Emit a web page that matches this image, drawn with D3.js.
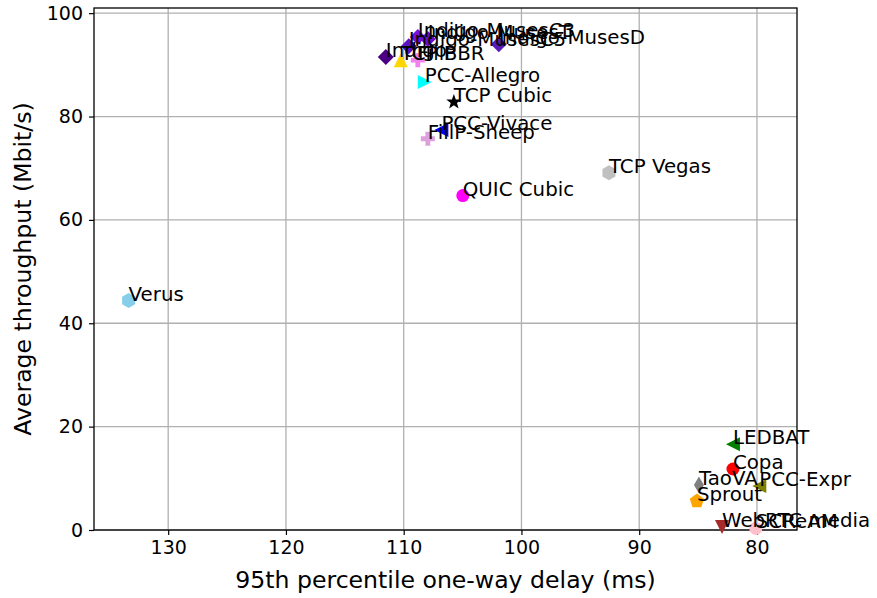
<!DOCTYPE html>
<html>
<head>
<meta charset="utf-8">
<script src="https://cdn.jsdelivr.net/npm/d3@7"></script>
<style>
  html, body { margin: 0; padding: 0; background: #fff; }
  svg { display: block; font-family: "DejaVu Sans", sans-serif; }
</style>
</head>
<body>
<svg id="chart" width="877" height="598"></svg>
<script>
// ---- data ----
const schemes = ["Indigo-MusesC3", "Indigo-MusesT", "Indigo-MusesC5", "Indigo-MusesD", "Indigo", "TCP BBR", "FillP",
  "PCC-Allegro", "TCP Cubic", "PCC-Vivace", "FillP-Sheep", "QUIC Cubic", "TCP Vegas", "Verus",
  "LEDBAT", "Copa", "TaoVA", "PCC-Expr", "Sprout", "WebRTC media", "SCReAM"];
const delays = [108.8, 107.95, 109.57, 101.92, 111.52, 110.25, 108.8,
  108.21, 105.74, 106.8, 107.95, 104.98, 92.57, 133.36,
  82.04, 82.04, 84.93, 79.8, 85.1, 82.97, 80.1];
const throughputs = [95.4, 95.0, 93.6, 94.0, 91.5, 90.9, 90.9,
  86.7, 82.8, 77.4, 75.7, 64.7, 69.1, 44.4,
  16.6, 11.8, 8.7, 8.5, 5.6, 0.6, 0.3];
const xTicks = [130, 120, 110, 100, 90, 80];
const yTicks = [0, 20, 40, 60, 80, 100];
const xLabel = "95th percentile one-way delay (ms)";
const yLabel = "Average throughput (Mbit/s)";

// ---- styles ----
const colors = ["#7a10d8", "#6a0fcf", "#5c12c4", "#5a1ab8", "#4b0082", "#ffd700", "#ee82ee",
  "#00ffff", "#000000", "#0000ff", "#dda0dd", "#ff00ff", "#c0c0c0", "#87ceeb",
  "#008000", "#ff0000", "#808080", "#808000", "#ffa500", "#a52a2a", "#ffc0cb"];
const markers = ["D", "D", "D", "D", "D", "^", "P",
  ">", "*", "<", "P", "o", "h", "h",
  "<", "o", "d", "<", "p", "v", "o"];

const svg = d3.select("#chart");
const m = { left: 94, right: 797, top: 8, bottom: 530 };

const x = d3.scaleLinear().domain([136.3, 76.6]).range([m.left, m.right]);
const y = d3.scaleLinear().domain([0, 101]).range([m.bottom, m.top]);

// grid
const grid = svg.append("g");
grid.selectAll("line.gx").data(xTicks).join("line")
  .attr("x1", d => x(d)).attr("x2", d => x(d))
  .attr("y1", m.top).attr("y2", m.bottom)
  .attr("stroke", "#b0b0b0").attr("stroke-width", 1.3);
grid.selectAll("line.gy").data(yTicks).join("line")
  .attr("x1", m.left).attr("x2", m.right)
  .attr("y1", d => y(d)).attr("y2", d => y(d))
  .attr("stroke", "#b0b0b0").attr("stroke-width", 1.3);

// axes
const xAxis = svg.append("g").attr("transform", `translate(0,${m.bottom})`)
  .call(d3.axisBottom(x).tickValues(xTicks).tickSize(5).tickPadding(6).tickFormat(d3.format("d")));
const yAxis = svg.append("g").attr("transform", `translate(${m.left},0)`)
  .call(d3.axisLeft(y).tickValues(yTicks).tickSize(5).tickPadding(6).tickFormat(d3.format("d")));
[xAxis, yAxis].forEach(a => {
  a.select(".domain").remove();
  a.selectAll(".tick line").attr("stroke", "#000").attr("stroke-width", 1.2);
  a.selectAll(".tick text").attr("fill", "#000").style("font-size", "19px")
    .style("font-family", "DejaVu Sans, sans-serif");
});

// frame
svg.append("rect").attr("x", m.left).attr("y", m.top)
  .attr("width", m.right - m.left).attr("height", m.bottom - m.top)
  .attr("fill", "none").attr("stroke", "#000").attr("stroke-width", 1.3);

// marker shapes
function poly(pts) { return "M" + pts.map(p => p.join(",")).join("L") + "Z"; }
function regular(n, r, rot) {
  const pts = [];
  for (let i = 0; i < n; i++) {
    const a = rot + i * 2 * Math.PI / n;
    pts.push([r * Math.sin(a), -r * Math.cos(a)]);
  }
  return poly(pts);
}
function markerPath(k) {
  const s = 7;
  switch (k) {
    case "D": return poly([[0, -8], [8, 0], [0, 8], [-8, 0]]);
    case "d": return poly([[0, -8.5], [5, 0], [0, 8.5], [-5, 0]]);
    case "^": return poly([[0, -s], [s, s], [-s, s]]);
    case "v": return poly([[0, s], [s, -s], [-s, -s]]);
    case "<": return poly([[-s, 0], [s, -s], [s, s]]);
    case ">": return poly([[s, 0], [-s, -s], [-s, s]]);
    case "h": return regular(6, 7.5, 0);
    case "p": return regular(5, 7.5, 0);
    case "o": return d3.symbol(d3.symbolCircle, Math.PI * 6.5 * 6.5)();
    case "*": {
      const pts = [];
      for (let i = 0; i < 10; i++) {
        const r = i % 2 === 0 ? 8 : 3.3;
        const a = i * Math.PI / 5;
        pts.push([r * Math.sin(a), -r * Math.cos(a)]);
      }
      return poly(pts);
    }
    case "P": {
      const a = 7, b = 2.4;
      return poly([[-b, -a], [b, -a], [b, -b], [a, -b], [a, b], [b, b], [b, a], [-b, a], [-b, b], [-a, b], [-a, -b], [-b, -b]]);
    }
  }
}

const idx = d3.range(schemes.length);
svg.append("g").selectAll("path").data(idx).join("path")
  .attr("transform", i => `translate(${x(delays[i])},${y(throughputs[i])})`)
  .attr("d", i => markerPath(markers[i]))
  .attr("fill", i => colors[i]);

svg.append("g").selectAll("text").data(idx).join("text")
  .attr("x", i => x(delays[i]))
  .attr("y", i => y(throughputs[i]))
  .attr("fill", "#000")
  .style("font-size", "19.8px")
  .text(i => schemes[i]);

// axis labels
svg.append("text").attr("x", (m.left + m.right) / 2).attr("y", 588)
  .attr("text-anchor", "middle").style("font-size", "23.6px").text(xLabel);
svg.append("text").attr("transform", `translate(31,${(m.top + m.bottom) / 2}) rotate(-90)`)
  .attr("text-anchor", "middle").style("font-size", "23.6px").text(yLabel);
</script>
</body>
</html>
